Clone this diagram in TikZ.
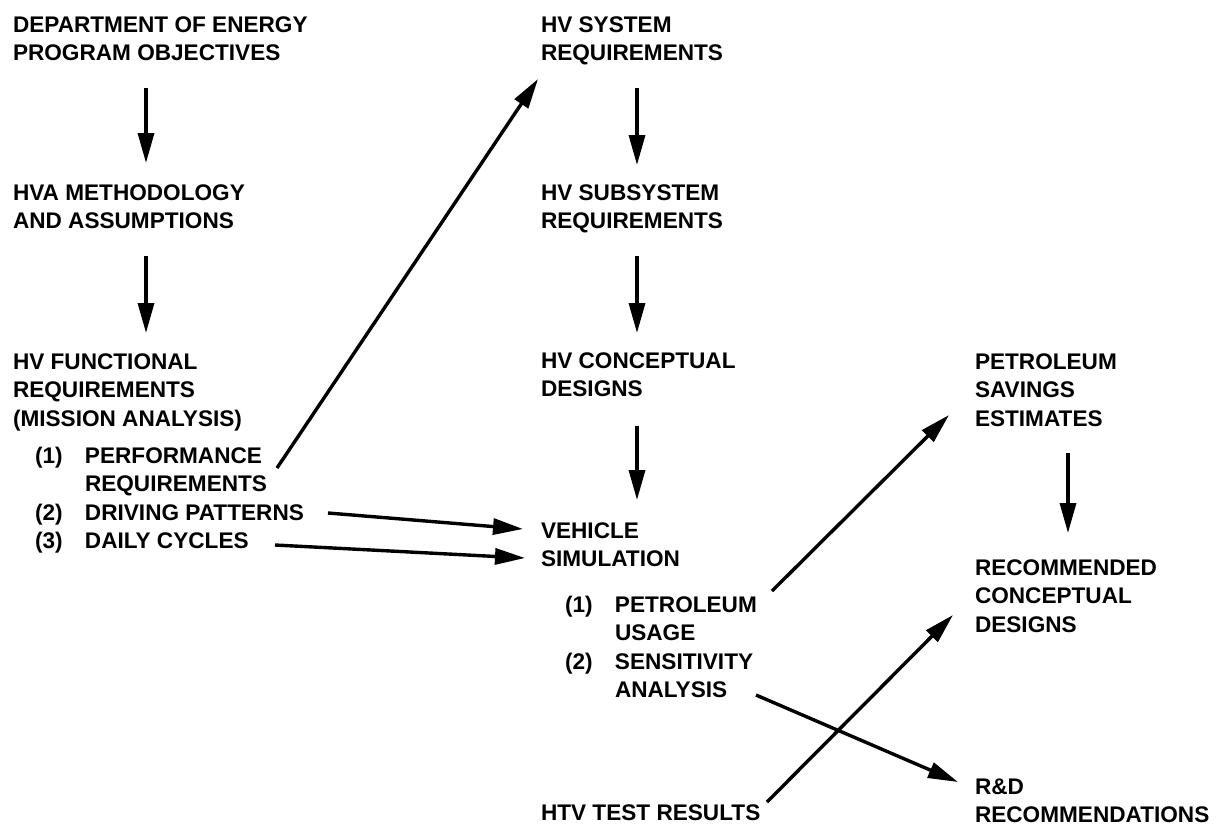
\documentclass[tikz,border=0pt]{standalone}
\usepackage{fontspec}
\setmainfont{Liberation Sans}
\usetikzlibrary{arrows.meta,calc}

% one block of capitals, first baseline at the node's base
\newcommand{\blk}[1]{\begin{tabular}[t]{@{}l@{}}#1\end{tabular}}
% numbered sub-item with hanging text
\newcommand{\itm}[2]{\begin{tabular}[t]{@{}p{25pt}@{}l@{}}#1&#2\end{tabular}}

\begin{document}
\begin{tikzpicture}[x=0.5pt,y=-0.5pt,
  lbl/.style={anchor=base west,inner sep=0pt,outer sep=0pt,
    font=\fontsize{11.3}{14.25}\selectfont\bfseries},
  arr/.style={line width=1.7pt,-{Triangle[length=15pt,width=8pt]}}]

\fill[white] (0,0) rectangle (1228,826);
\path[use as bounding box] (0,0) rectangle (1228,826);

% left column
\node[lbl] (dep)   at (13,32)  {\blk{DEPARTMENT OF ENERGY\\PROGRAM OBJECTIVES}};
\node[lbl] (hva)   at (13,200) {\blk{HVA METHODOLOGY\\AND ASSUMPTIONS}};
\node[lbl] (func)  at (13,369) {\blk{HV FUNCTIONAL\\REQUIREMENTS\\(MISSION ANALYSIS)}};
\node[lbl] (perf)  at (35,463) {\itm{(1)}{PERFORMANCE\\&REQUIREMENTS}};
\node[lbl] (driv)  at (35,520) {\itm{(2)}{DRIVING PATTERNS}};
\node[lbl] (daily) at (35,548) {\itm{(3)}{DAILY CYCLES}};

% middle column
\node[lbl] (sys)  at (541,32)  {\blk{HV SYSTEM\\REQUIREMENTS}};
\node[lbl] (sub)  at (541,200) {\blk{HV SUBSYSTEM\\REQUIREMENTS}};
\node[lbl] (conc) at (541,368) {\blk{HV CONCEPTUAL\\DESIGNS}};
\node[lbl] (veh)  at (541,538) {\blk{VEHICLE\\SIMULATION}};
\node[lbl] (pus)  at (565,612) {\itm{(1)}{PETROLEUM\\&USAGE}};
\node[lbl] (sens) at (565,669) {\itm{(2)}{SENSITIVITY\\&ANALYSIS}};
\node[lbl] (htv)  at (541,820) {\blk{HTV TEST RESULTS}};

% right column
\node[lbl] (pse) at (975,369) {\blk{PETROLEUM\\SAVINGS\\ESTIMATES}};
\node[lbl] (rec) at (975,575) {\blk{RECOMMENDED\\CONCEPTUAL\\DESIGNS}};
\node[lbl] (rnd) at (975,794) {\blk{R\&D\\RECOMMENDATIONS}};

% vertical flow
\draw[arr] ($(dep.base west)+(133,56)$)  -- ($(hva.base west)+(133,-37)$);
\draw[arr] ($(hva.base west)+(133,56)$)  -- ($(func.base west)+(133,-36)$);
\draw[arr] ($(sys.base west)+(96,56)$)   -- ($(sub.base west)+(96,-35)$);
\draw[arr] ($(sub.base west)+(96,56)$)   -- ($(conc.base west)+(96,-35)$);
\draw[arr] ($(conc.base west)+(96,58)$)  -- ($(veh.base west)+(96,-38)$);
\draw[arr] ($(pse.base west)+(93,84)$)   -- ($(rec.base west)+(93,-42)$);

% cross links
\draw[arr] ($(perf.base west)+(242,5)$)  -- ($(sys.base west)+(-3,47)$);
\draw[arr] ($(driv.base west)+(293,-7)$) -- ($(veh.base west)+(-18,-9)$);
\draw[arr] ($(daily.base west)+(240,-3)$)-- ($(veh.base west)+(-16,20)$);
\draw[arr] ($(pus.base west)+(207,-21)$) -- ($(pse.base west)+(-26,46)$);
\draw[arr] ($(sens.base west)+(191,26)$) -- ($(rnd.base west)+(-17,-12)$);
\draw[arr] ($(htv.base west)+(226,-18)$) -- ($(rec.base west)+(-22,40)$);
\end{tikzpicture}
\end{document}
